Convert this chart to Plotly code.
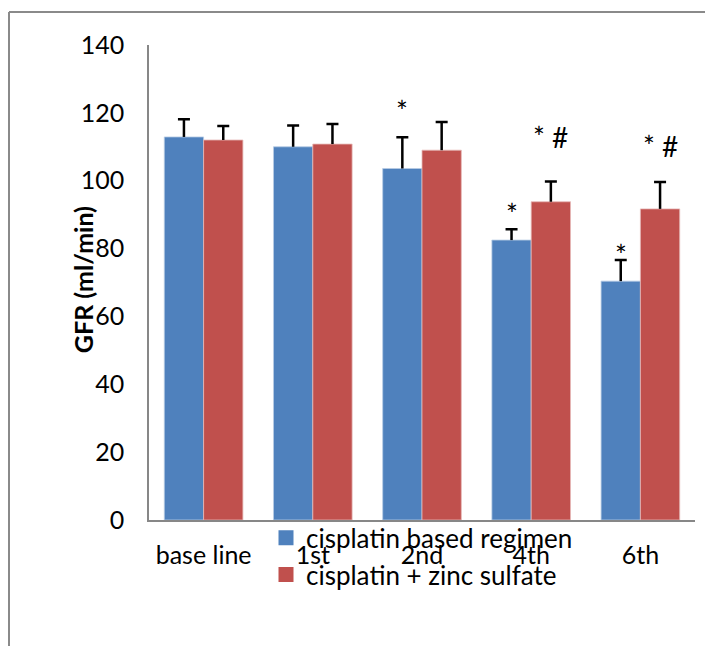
import plotly.graph_objects as go

categories = ["base line", "1st", "2nd", "4th", "6th"]
blue_name = "cisplatin based regimen"
red_name = "cisplatin + zinc sulfate"
blue_vals = [112.9, 110.0, 103.6, 82.5, 70.4]
blue_err = [5.2, 6.3, 9.2, 3.2, 6.2]
red_vals = [112.0, 110.8, 109.0, 93.8, 91.7]
red_err = [4.1, 5.9, 8.3, 6.0, 7.9]
blue_sig = ["", "", "*", "*", "*"]
red_sig = ["", "", "", "* #", "* #"]
y_ticks = [0, 20, 40, 60, 80, 100, 120, 140]

# style
blue_shift = [0, 0, 26, 15, 5]
red_shift = [0, 0, 0, 44, 36]
FONT = "Lato, Carlito, Calibri, sans-serif"
FS = 25
BLUE = "#4F81BD"
RED = "#C0504D"
AXIS = "#878787"
bargap = 0.28
half = (1 - bargap) / 4

idx = list(range(len(categories)))

fig = go.Figure()
for vals, errs, name, color, edge, sign in [
    (blue_vals, blue_err, blue_name, BLUE, "#b8cce4", -1),
    (red_vals, red_err, red_name, RED, "#e6b9b8", 1),
]:
    fig.add_trace(go.Bar(
        x=idx, y=vals, name=name, showlegend=False,
        marker=dict(color=color, line=dict(color=edge, width=0.8)),
        error_y=dict(type="data", array=errs, arrayminus=[0] * len(errs),
                     symmetric=False, color="black", thickness=2.5, width=0),
    ))
    # caps on top of the error bars
    fig.add_trace(go.Scatter(
        x=[i + sign * half for i in idx], y=[v + e for v, e in zip(vals, errs)],
        mode="markers", marker=dict(size=1, color="rgba(0,0,0,0)"),
        error_y=dict(type="data", array=[0] * len(errs), color="black",
                     thickness=2.5, width=6),
        showlegend=False, hoverinfo="skip",
    ))

# legend entries with larger square swatches
for name, color in [(blue_name, BLUE), (red_name, RED)]:
    fig.add_trace(go.Scatter(
        x=[None], y=[None], mode="markers", name=name,
        marker=dict(symbol="square", size=15, color=color),
    ))

for i in idx:
    if blue_sig[i]:
        fig.add_annotation(x=i - half, y=blue_vals[i] + blue_err[i], text=blue_sig[i],
                           showarrow=False, yanchor="middle", yshift=blue_shift[i],
                           font=dict(family=FONT, size=28, color="black"))
    if red_sig[i]:
        fig.add_annotation(x=i + half, y=red_vals[i] + red_err[i], text=red_sig[i],
                           showarrow=False, yanchor="middle", yshift=red_shift[i],
                           font=dict(family=FONT, size=28, color="black"))

# page has an 8px body margin; compensate
W, H = 713, 646
L, T = 141, 37
pw, ph = 546, 475
R, B = W - L - pw, H - T - ph
bx = (1 - L) / pw
by = (T + ph - 4) / ph
fig.add_shape(type="line", xref="paper", yref="paper", x0=bx, x1=(W - L) / pw + 0.05,
              y0=by, y1=by, line=dict(color="#8a8a8a", width=2))
fig.add_shape(type="line", xref="paper", yref="paper", x0=bx, x1=bx,
              y0=by, y1=-(B + 10) / ph, line=dict(color="#8a8a8a", width=2))

fig.add_annotation(xref="paper", yref="paper", x=(75 - L) / pw, y=0.505,
                   text="<b>GFR (ml/min)</b>", textangle=-90, showarrow=False,
                   xanchor="center", yanchor="middle",
                   font=dict(family=FONT, size=FS, color="black"))

fig.update_layout(
    width=W, height=H,
    margin=dict(l=L, r=R, t=T, b=B),
    barmode="group", bargap=bargap, bargroupgap=0,
    plot_bgcolor="white", paper_bgcolor="white",
    font=dict(family=FONT, size=FS, color="black"),
    legend=dict(x=(258 - L) / pw, xanchor="left", y=0.012, yanchor="top",
                bgcolor="rgba(0,0,0,0)", font=dict(size=26),
                itemwidth=30, itemsizing="trace"),
    showlegend=True,
)
fig.update_xaxes(range=[-0.5, len(categories) - 0.5], tickvals=idx, ticktext=categories,
                 showline=True, linecolor=AXIS, linewidth=1.5, ticks="",
                 showgrid=False, zeroline=False, ticklabelstandoff=12,
                 tickfont=dict(family=FONT, size=FS))
fig.update_yaxes(range=[0, 140], tickvals=y_ticks, showline=True, linecolor=AXIS,
                 linewidth=1.5, ticks="", showgrid=False, zeroline=False,
                 ticklabelstandoff=18, tickfont=dict(family=FONT, size=FS))
fig.write_html("out.html")
